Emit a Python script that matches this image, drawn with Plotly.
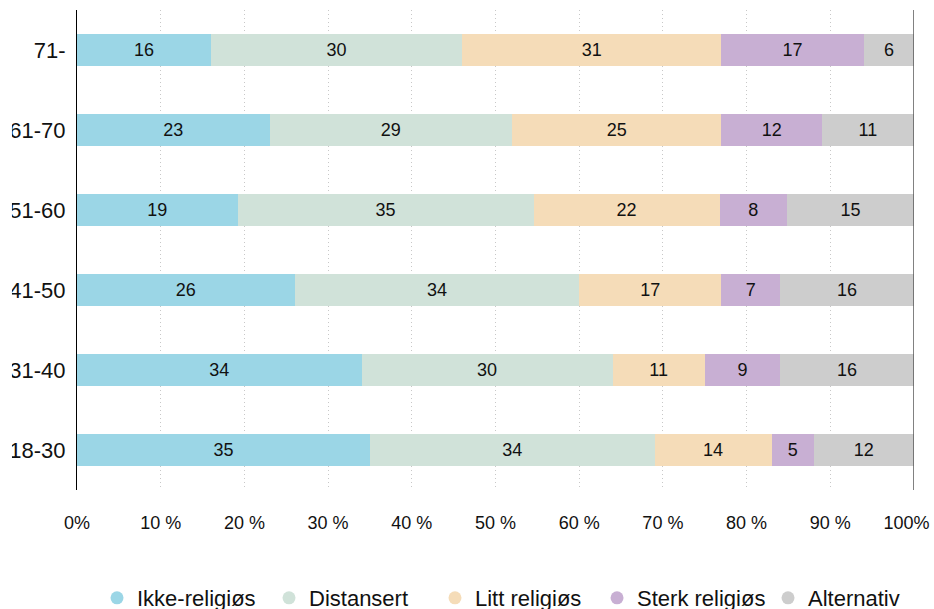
import plotly.graph_objects as go

# Age groups, listed bottom to top
age_groups = ["18-30", "31-40", "41-50", "51-60", "61-70", "71-"]

series_names = ["Ikke-religiøs", "Distansert", "Litt religiøs", "Sterk religiøs", "Alternativ"]

ikke_religios = [35, 34, 26, 19, 23, 16]
distansert = [34, 30, 34, 35, 29, 30]
litt_religios = [14, 11, 17, 22, 25, 31]
sterk_religios = [5, 9, 7, 8, 12, 17]
alternativ = [12, 16, 16, 15, 11, 6]

series_values = [ikke_religios, distansert, litt_religios, sterk_religios, alternativ]
series_colors = ["#9bd6e6", "#d0e2d9", "#f5dcb8", "#c8afd3", "#cdcdcd"]

tick_values = [0, 10, 20, 30, 40, 50, 60, 70, 80, 90, 100]
tick_labels = ["0%", "10 %", "20 %", "30 %", "40 %", "50 %", "60 %", "70 %", "80 %", "90 %",
               "100%\u00a0\u00a0\u00a0"]

# left edge of each legend entry (paper fraction of the plot width)
legend_x = [0.0239, 0.2294, 0.4277, 0.6213, 0.8256]

font_family = "Liberation Sans, Arial, sans-serif"

fig = go.Figure()

for name, vals, color in zip(series_names, series_values, series_colors):
    fig.add_trace(go.Bar(
        y=age_groups,
        x=vals,
        orientation="h",
        name=name,
        marker=dict(color=color, line=dict(width=0)),
        text=[str(v) for v in vals],
        textposition="inside",
        insidetextanchor="middle",
        textangle=0,
        constraintext="none",
        textfont=dict(size=18, color="#111111", family=font_family),
        showlegend=False,
        hoverinfo="skip",
    ))

# Circle markers for the legend, one legend box per entry
legend_layout = {}
for i, (name, color, lx) in enumerate(zip(series_names, series_colors, legend_x)):
    key = "legend" if i == 0 else f"legend{i + 1}"
    fig.add_trace(go.Scatter(
        x=[None], y=[None],
        mode="markers",
        name=name,
        marker=dict(symbol="circle", size=13, color=color),
        showlegend=True,
        legend=key,
    ))
    legend_layout[key] = dict(
        orientation="h",
        x=lx, xanchor="left",
        y=-0.225, yanchor="middle",
        font=dict(size=22, color="#111111", family=font_family),
        bgcolor="rgba(0,0,0,0)",
        borderwidth=0,
    )

fig.update_layout(
    width=934,
    height=609,
    barmode="stack",
    barnorm="percent",
    bargap=0.59,
    plot_bgcolor="white",
    paper_bgcolor="white",
    margin=dict(l=77, r=20, t=10, b=119, autoexpand=False),
    font=dict(family=font_family, color="#111111"),
    xaxis=dict(
        range=[0, 100.001],
        tickvals=tick_values,
        ticktext=tick_labels,
        tickfont=dict(size=18),
        ticklabeloverflow="allow",
        showgrid=True,
        gridcolor="#c8c8c8",
        griddash="1px,3px",
        gridwidth=1,
        zeroline=False,
        showline=False,
        ticks="",
        ticklabelstandoff=20,
        fixedrange=True,
    ),
    yaxis=dict(
        categoryorder="array",
        categoryarray=age_groups,
        tickfont=dict(size=22),
        showline=True,
        linecolor="#000000",
        linewidth=1.2,
        showgrid=False,
        ticks="",
        ticklabelstandoff=6,
        fixedrange=True,
    ),
    shapes=[
        # solid line closing the 100 % edge
        dict(type="line", xref="x", yref="paper", x0=100, x1=100, y0=0, y1=1,
             line=dict(color="#5a5a5a", width=1.5), layer="above"),
        # left page edge trims the widest age labels
        dict(type="rect", xref="paper", yref="paper", x0=-0.1, x1=-0.0777, y0=-0.05, y1=1.05,
             fillcolor="white", line=dict(width=0), layer="above"),
    ],
    **legend_layout,
)

fig.write_html("out.html")
